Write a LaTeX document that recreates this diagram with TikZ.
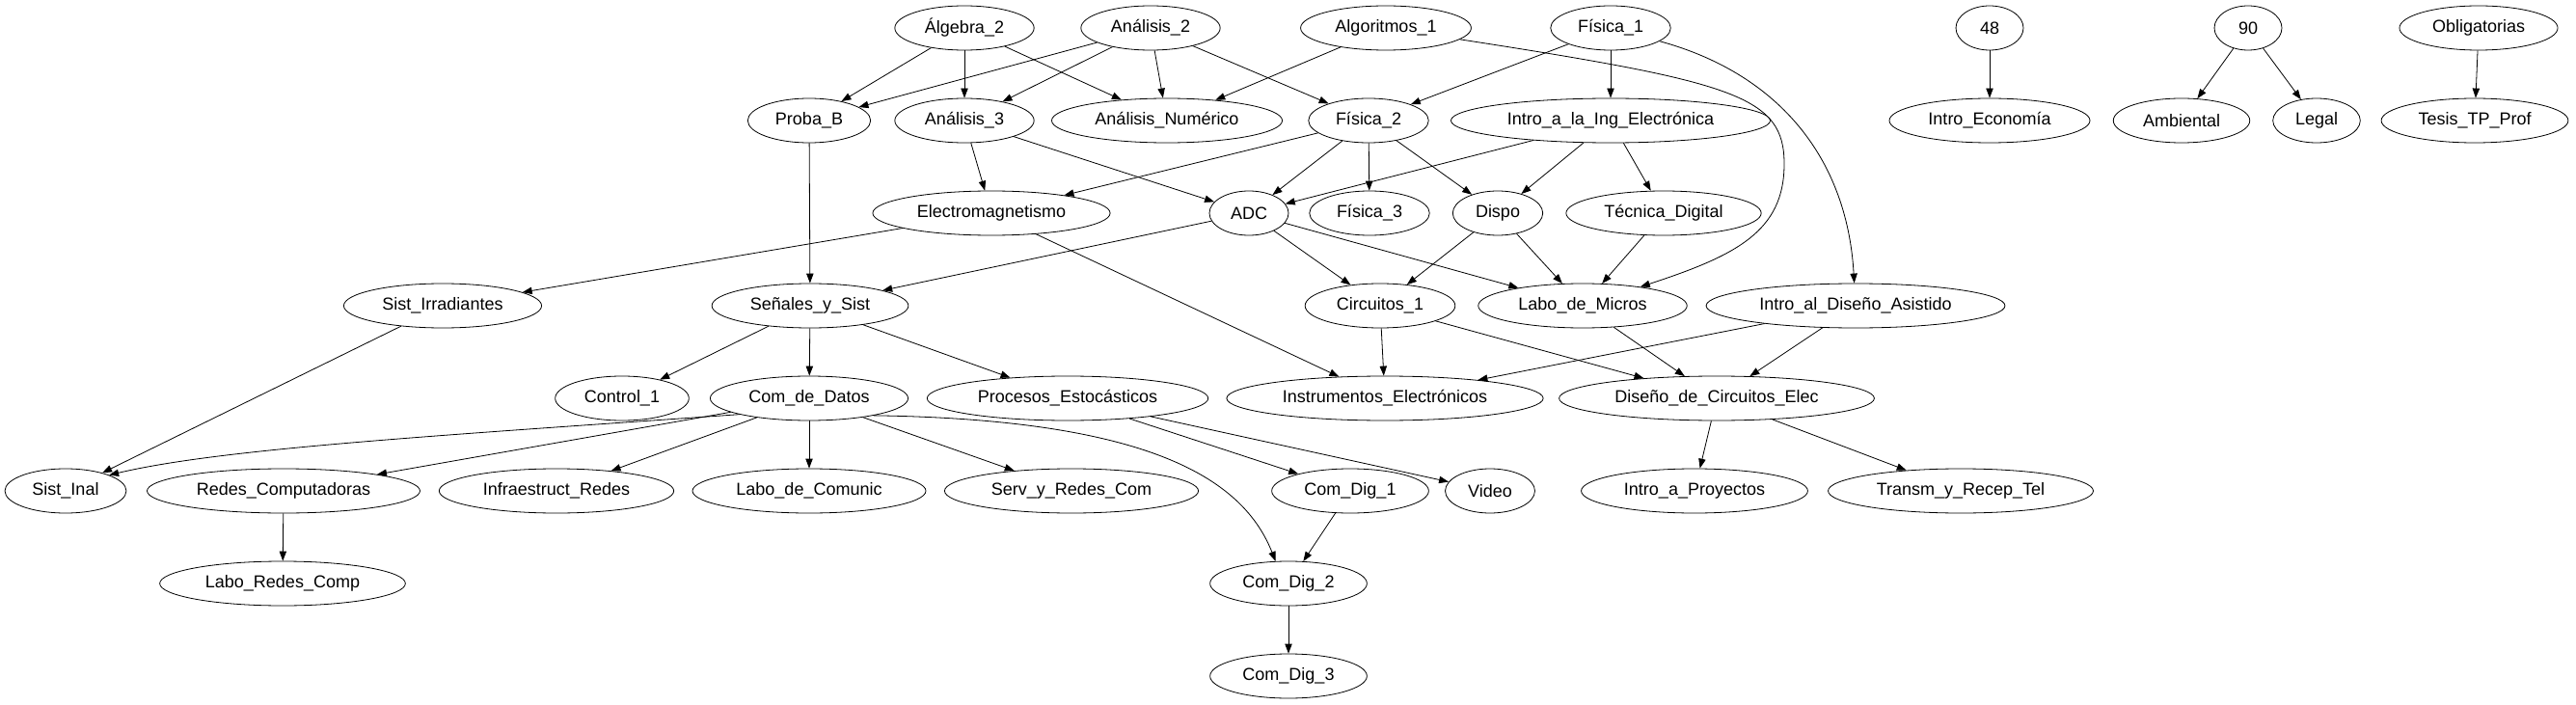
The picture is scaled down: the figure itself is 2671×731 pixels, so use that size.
\documentclass[tikz,border=0pt]{standalone}
\usepackage{fontspec}
\setmainfont{Liberation Sans}
\usetikzlibrary{arrows.meta}
\usetikzlibrary{shapes.geometric}
\tikzset{req/.style = {-{Triangle[length=7.5pt, width=5.5pt]}}}
\tikzset{materia/.style = {draw, ellipse, inner xsep=7.5pt, inner ysep=0pt,
                           minimum width=52.5pt, minimum height=34.5pt,
                           font=\fontsize{13.5}{16}\selectfont}}

\begin{document}
\begin{tikzpicture}[x=0.75pt, y=-0.75pt, line width=0.6pt]
    \useasboundingbox (0, 0) rectangle (2671, 731);

    % primer nivel
    \node [materia] (alg2) at (1000, 29) {Álgebra\_2};
    \node [materia] (an2) at (1193, 29) {Análisis\_2};
    \node [materia] (algo1) at (1437, 29) {Algoritmos\_1};
    \node [materia] (fis1) at (1670, 29) {Física\_1};
    \node [materia] (n48) at (2063, 29) {48};
    \node [materia] (n90) at (2331, 29) {90};
    \node [materia] (oblig) at (2570, 29) {Obligatorias};

    \node [materia] (proba) at (839, 125) {Proba\_B};
    \node [materia] (an3) at (1000, 125) {Análisis\_3};
    \node [materia] (anum) at (1210, 125) {Análisis\_Numérico};
    \node [materia] (fis2) at (1419, 125) {Física\_2};
    \node [materia] (iing) at (1670, 125) {Intro\_a\_la\_Ing\_Electrónica};
    \node [materia] (ieco) at (2063, 125) {Intro\_Economía};
    \node [materia] (amb) at (2262, 125) {Ambiental};
    \node [materia] (legal) at (2402, 125) {Legal};
    \node [materia] (tesis) at (2566, 125) {Tesis\_TP\_Prof};

    \node [materia] (em) at (1028, 221) {Electromagnetismo};
    \node [materia] (adc) at (1295, 221) {ADC};
    \node [materia] (fis3) at (1420, 221) {Física\_3};
    \node [materia] (dispo) at (1553, 221) {Dispo};
    \node [materia] (tdig) at (1725, 221) {Técnica\_Digital};

    \node [materia] (sirr) at (459, 317) {Sist\_Irradiantes};
    \node [materia] (sys) at (840, 317) {Señales\_y\_Sist};
    \node [materia] (circ) at (1431, 317) {Circuitos\_1};
    \node [materia] (lmic) at (1641, 317) {Labo\_de\_Micros};
    \node [materia] (idisa) at (1924, 317) {Intro\_al\_Diseño\_Asistido};

    \node [materia] (ctrl) at (645, 413) {Control\_1};
    \node [materia] (cdd) at (839, 413) {Com\_de\_Datos};
    \node [materia] (pest) at (1107, 413) {Procesos\_Estocásticos};
    \node [materia] (instr) at (1436, 413) {Instrumentos\_Electrónicos};
    \node [materia] (dce) at (1780, 413) {Diseño\_de\_Circuitos\_Elec};

    \node [materia] (sinal) at (68, 509) {Sist\_Inal};
    \node [materia] (redes) at (294, 509) {Redes\_Computadoras};
    \node [materia] (infra) at (577, 509) {Infraestruct\_Redes};
    \node [materia] (lcom) at (839, 509) {Labo\_de\_Comunic};
    \node [materia] (serv) at (1111, 509) {Serv\_y\_Redes\_Com};
    \node [materia] (cdg1) at (1400, 509) {Com\_Dig\_1};
    \node [materia] (video) at (1545, 509) {Video};
    \node [materia] (ipro) at (1757, 509) {Intro\_a\_Proyectos};
    \node [materia] (trans) at (2033, 509) {Transm\_y\_Recep\_Tel};

    \node [materia] (lredes) at (293, 605) {Labo\_Redes\_Comp};
    \node [materia] (cdg2) at (1336, 605) {Com\_Dig\_2};
    \node [materia] (cdg3) at (1336, 701) {Com\_Dig\_3};

    % correlativas
    \draw [req] (alg2) -- (proba);
    \draw [req] (alg2) -- (an3);
    \draw [req] (alg2) -- (anum);
    \draw [req] (an2) -- (proba);
    \draw [req] (an2) -- (an3);
    \draw [req] (an2) -- (anum);
    \draw [req] (an2) -- (fis2);
    \draw [req] (algo1) -- (anum);
    \draw [req] (algo1) .. controls (1800, 85) and (1850, 100) .. (1850, 170)
                        .. controls (1850, 240) and (1800, 265) .. (lmic);
    \draw [req] (fis1) -- (fis2);
    \draw [req] (fis1) -- (iing);
    \draw [req] (fis1) .. controls (1840, 75) and (1915, 160) .. (idisa);
    \draw [req] (n48) -- (ieco);
    \draw [req] (n90) -- (amb);
    \draw [req] (n90) -- (legal);
    \draw [req] (oblig) -- (tesis);

    \draw [req] (proba) -- (sys);
    \draw [req] (an3) -- (em);
    \draw [req] (an3) -- (adc);
    \draw [req] (fis2) -- (em);
    \draw [req] (fis2) -- (adc);
    \draw [req] (fis2) -- (fis3);
    \draw [req] (fis2) -- (dispo);
    \draw [req] (iing) -- (adc);
    \draw [req] (iing) -- (dispo);
    \draw [req] (iing) -- (tdig);

    \draw [req] (em) -- (sirr);
    \draw [req] (em) -- (instr);
    \draw [req] (adc) -- (sys);
    \draw [req] (adc) -- (circ);
    \draw [req] (adc) -- (lmic);
    \draw [req] (dispo) -- (circ);
    \draw [req] (dispo) -- (lmic);
    \draw [req] (tdig) -- (lmic);

    \draw [req] (sirr) -- (sinal);
    \draw [req] (sys) -- (ctrl);
    \draw [req] (sys) -- (cdd);
    \draw [req] (sys) -- (pest);
    \draw [req] (circ) -- (instr);
    \draw [req] (circ) -- (dce);
    \draw [req] (lmic) -- (dce);
    \draw [req] (idisa) -- (instr);
    \draw [req] (idisa) -- (dce);

    \draw [req] (cdd.193) .. controls (450, 452) and (230, 465) .. (sinal.20);
    \draw [req] (cdd) -- (redes);
    \draw [req] (cdd) -- (infra);
    \draw [req] (cdd) -- (lcom);
    \draw [req] (cdd) -- (serv);
    \draw [req] (cdd.-15) .. controls (1200, 435) and (1290, 500) .. (cdg2.120);
    \draw [req] (pest) -- (cdg1);
    \draw [req] (pest) -- (video);
    \draw [req] (dce) -- (ipro);
    \draw [req] (dce) -- (trans);

    \draw [req] (redes) -- (lredes);
    \draw [req] (cdg1) -- (cdg2);
    \draw [req] (cdg2) -- (cdg3);
\end{tikzpicture}
\end{document}
